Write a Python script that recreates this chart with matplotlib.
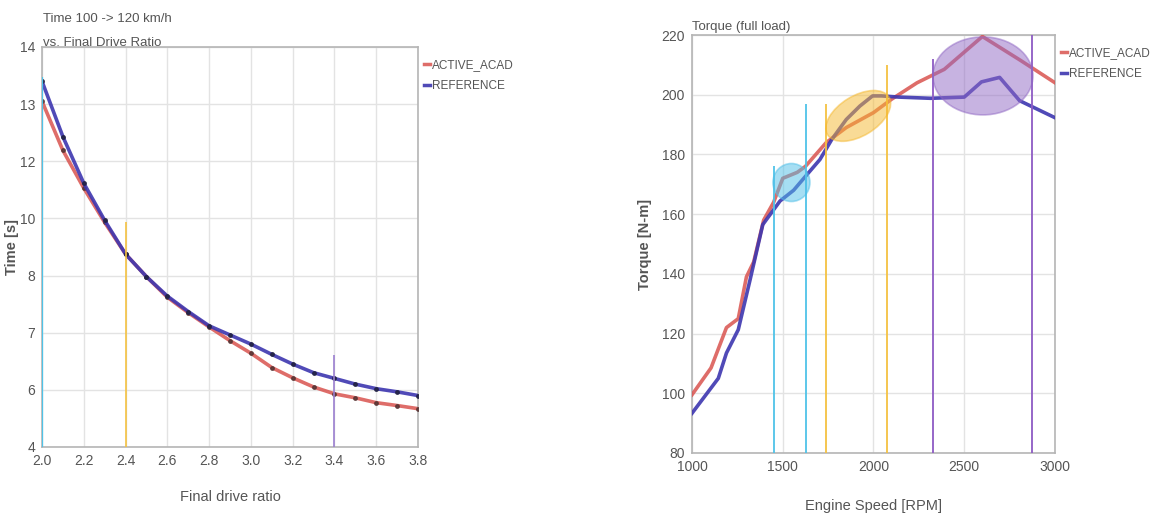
import numpy as np
import matplotlib
matplotlib.use("Agg")
import matplotlib.pyplot as plt
from matplotlib.patches import Ellipse
from matplotlib import transforms

plt.rcParams['font.family'] = ['Liberation Sans', 'DejaVu Sans']

# left chart: time 100->120 km/h vs final drive ratio
ratio = [2.0, 2.1, 2.2, 2.3, 2.4, 2.5, 2.6, 2.7, 2.8, 2.9,
         3.0, 3.1, 3.2, 3.3, 3.4, 3.5, 3.6, 3.7, 3.8]
time_acad = [13.05, 12.19, 11.06, 9.86, 8.75, 7.98, 7.62, 7.35, 7.10, 6.86,
             6.64, 6.39, 6.21, 6.05, 5.86, 5.72, 5.55, 5.45, 5.34]
time_ref = [13.40, 12.43, 11.23, 9.93, 8.75, 7.98, 7.64, 7.37, 7.12, 6.96,
            6.80, 6.62, 6.45, 6.30, 6.20, 6.10, 6.02, 5.93, 5.80]
time_ticks = [4, 6, 7, 8, 10, 12, 13, 14]
ratio_ticks = [2.0, 2.2, 2.4, 2.6, 2.8, 3.0, 3.2, 3.4, 3.6, 3.8]
# reference markers: (ratio, top of line)
left_marks = [(2.0, 13.47, '#4fc3e8'), (2.4, 9.86, '#f5c242'), (3.4, 6.61, '#9b7fd0')]

# right chart: full load torque
rpm_acad = [1000, 1105, 1190, 1255, 1300, 1340, 1395, 1450, 1500, 1580,
            1625, 1740, 1850, 2000, 2100, 2240, 2390, 2600, 2810, 3000]
torque_acad = [99.5, 108.5, 122, 125, 139, 144, 158, 164, 172, 174,
               176, 184, 189, 194, 198.5, 204, 208.5, 219.5, 211.5, 204]
rpm_ref = [1000, 1145, 1190, 1255, 1320, 1390, 1485, 1560, 1630, 1705, 1770,
           1850, 1925, 1995, 2045, 2140, 2315, 2500, 2595, 2695, 2805, 3000]
torque_ref = [93.3, 105, 113.5, 121.3, 138, 156.5, 164.4, 168, 173, 178.3, 185,
              191.7, 196.2, 199.6, 199.6, 199.2, 198.8, 199.2, 204.3, 205.8, 198, 192.3]
right_marks = [(1452, 176, '#4fc3e8'), (1626, 197, '#4fc3e8'),
               (1740, 197, '#f5c242'), (2076, 210, '#f5c242'),
               (2328, 212, '#8e5bc4'), (2875, 220, '#8e5bc4')]
# highlight ellipses: centre (rpm, torque), size in px, angle, colour
highlights = [((1548, 170.6), 37, 38, 0, '#4fbfe8'),
              ((1916, 192.9), 72, 40, 31.5, '#f5b82e'),
              ((2603, 206.3), 100, 78, 0, '#9068c4')]

RED = '#d9534f'
BLUE = '#3d36b0'
GRID = '#e3e3e3'
TXT = '#555555'

fig = plt.figure(figsize=(11.51, 5.14), dpi=100)
ax1 = fig.add_axes([0.0365, 0.1304, 0.3267, 0.7782])
ax2 = fig.add_axes([0.6012, 0.1187, 0.3154, 0.8132])

# uneven tick labels on evenly spaced gridlines
pos = np.arange(len(time_ticks))
fwd = lambda v: np.interp(v, time_ticks, pos)
inv = lambda p: np.interp(p, pos, time_ticks)
ax1.set_yscale('function', functions=(fwd, inv))

ax1.plot(ratio, time_acad, color=RED, lw=2.6, alpha=0.85, marker='o', ms=2.5,
         mfc='#553333', mec='#553333', label='ACTIVE_ACAD', zorder=3)
ax1.plot(ratio, time_ref, color=BLUE, lw=2.6, alpha=0.9, marker='o', ms=2.5,
         mfc='#222244', mec='#222244', label='REFERENCE', zorder=4)
for x, top, c in left_marks:
    ax1.vlines(x, 4, top, color=c, lw=1.6 if x == 2.0 else 1.2, zorder=5)
ax1.set_xlim(2.0, 3.8)
ax1.set_ylim(4, 14)
ax1.set_xticks(ratio_ticks)
ax1.set_xticklabels([f'{v:.1f}' for v in ratio_ticks])
ax1.set_yticks(time_ticks)
ax1.set_xlabel('Final drive ratio', fontsize=10.5, color=TXT, labelpad=16)
ax1.set_ylabel('Time [s]', fontsize=10.5, color=TXT, fontweight='bold')
ax1.yaxis.set_label_coords(-0.06, 0.5)
ax1.text(0.003, 1.07, 'Time 100 -> 120 km/h', transform=ax1.transAxes,
         fontsize=9.5, color=TXT, va='center')
ax1.text(0.003, 1.01, 'vs. Final Drive Ratio', transform=ax1.transAxes,
         fontsize=9.5, color=TXT, va='center')

ax2.plot(rpm_acad, torque_acad, color=RED, lw=2.6, alpha=0.85, label='ACTIVE_ACAD', zorder=3)
ax2.plot(rpm_ref, torque_ref, color=BLUE, lw=2.6, alpha=0.9, label='REFERENCE', zorder=4)
for x, top, c in right_marks:
    ax2.vlines(x, 80, top, color=c, lw=1.3, zorder=5)
for (cx, cy), w, h, ang, c in highlights:
    tr = fig.dpi_scale_trans + transforms.ScaledTranslation(cx, cy, ax2.transData)
    ax2.add_patch(Ellipse((0, 0), w / 100, h / 100, angle=ang, transform=tr,
                          facecolor=c, alpha=0.5, edgecolor=c, lw=1.2, zorder=6))
ax2.set_xlim(1000, 3000)
ax2.set_ylim(80, 220)
ax2.set_xticks([1000, 1500, 2000, 2500, 3000])
ax2.set_yticks(np.arange(80, 221, 20))
ax2.set_xlabel('Engine Speed [RPM]', fontsize=10.5, color=TXT, labelpad=18)
ax2.set_ylabel('Torque [N-m]', fontsize=10.5, color=TXT, fontweight='bold')
ax2.yaxis.set_label_coords(-0.11, 0.5)
ax2.text(0.0, 1.02, 'Torque (full load)', transform=ax2.transAxes,
         fontsize=9.5, color=TXT, va='center')

for ax in (ax1, ax2):
    ax.grid(True, color=GRID, lw=1)
    ax.set_axisbelow(True)
    for s in ax.spines.values():
        s.set_color('#b5b5b5')
        s.set_linewidth(1.2)
    ax.tick_params(length=0, labelsize=10, labelcolor=TXT, pad=5)
    leg = ax.legend(loc='upper left', bbox_to_anchor=(1.0, 0.985), frameon=False,
                    handlelength=0.5, handletextpad=0.2, labelspacing=0.75,
                    fontsize=8.5, borderaxespad=0.1)
    for t in leg.get_texts():
        t.set_color(TXT)
    for l in leg.get_lines():
        l.set_marker('')
        l.set_linewidth(2.5)

fig.savefig('out.png', dpi=100)
